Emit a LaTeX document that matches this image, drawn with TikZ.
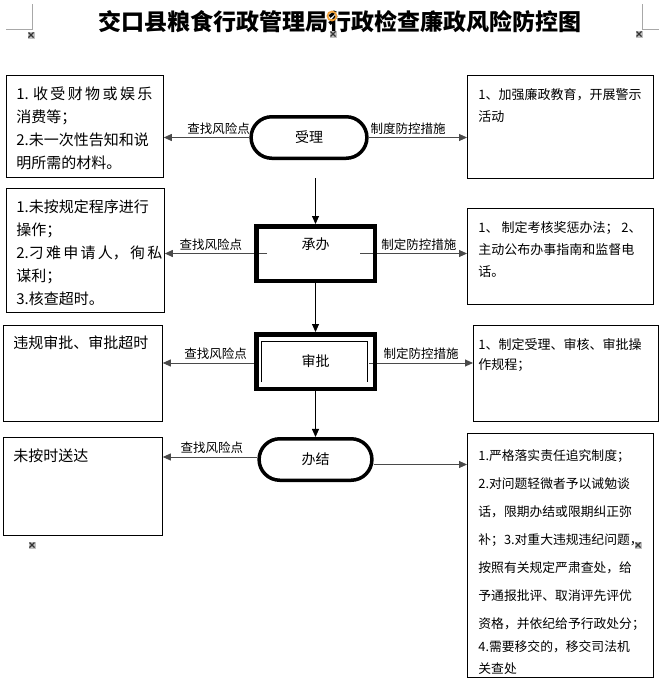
\documentclass[tikz,border=0pt]{standalone}
\usepackage{fontspec}
\setmainfont{Noto Sans CJK SC}
\usepackage{xcolor}
\usepackage{tikz}
\usetikzlibrary{positioning,arrows.meta,shapes.misc,backgrounds}
\definecolor{linegrey}{HTML}{4A4A4A}
\definecolor{markgrey}{HTML}{A8A8A8}
\definecolor{anchororg}{HTML}{F2A23A}
\newcommand{\sidetext}[3]{\parbox[t][#2pt][t]{#1pt}{\raggedright #3}}
\tikzset{
  side/.style  = {draw, anchor=north west, line width=0.8pt, inner xsep=10pt,
                  inner ysep=11pt, font=\fontsize{15}{23}\selectfont},
  ctrl/.style  = {side, inner xsep=11pt, inner ysep=13.5pt,
                  font=\fontsize{13}{22}\selectfont},
  stage/.style = {rounded rectangle, draw, line width=3.5pt, minimum width=119.5pt,
                  minimum height=41.5pt, font=\fontsize{14}{16}\selectfont},
  task/.style  = {rectangle, draw, line width=4.5pt, minimum width=118.5pt,
                  minimum height=54.5pt, font=\fontsize{14}{16}\selectfont},
  flow/.style  = {-{Triangle[length=8pt,width=7pt]}, line width=0.8pt},
  risk/.style  = {-{Triangle[length=8pt,width=7pt]}, line width=0.9pt, draw=linegrey},
  lab/.style   = {font=\fontsize{12.5}{14}\selectfont, inner sep=3pt, above},
  xmark/.style = {fill=markgrey!70, minimum size=7pt, inner sep=0pt,
                  path picture={\draw[black!80, line width=1.1pt]
                    ([shift={(1pt,1pt)}]path picture bounding box.south west) --
                    ([shift={(-1pt,-1pt)}]path picture bounding box.north east)
                    ([shift={(1pt,-1pt)}]path picture bounding box.north west) --
                    ([shift={(-1pt,1pt)}]path picture bounding box.south east);}},
}

\begin{document}
\begin{tikzpicture}[x=1pt, y=-1pt]
  \useasboundingbox (0,0) rectangle (659,696);

  % ---------------- Title ----------------
  \node[font=\bfseries\fontsize{23}{25}\selectfont] (title) at (340,22)
    {交口县粮食行政管理局行政检查廉政风险防控图};
  \draw[markgrey, line width=0.8pt] (6,29) -- (32,29) -- (32,4);
  \draw[markgrey, line width=0.8pt] (642,4) -- (642,29) -- (659,29);
  \node[circle, draw=anchororg, line width=1.8pt, minimum size=9pt, inner sep=0pt] (anc) at (332,16) {};
  \node[xmark] (xa) at (31,35) {};
  \node[xmark] (xb) at (333,34) {};
  \node[xmark] (xc) at (639,34) {};
  \node[xmark] (xd) at (32,545) {};
  \node[xmark] (xe) at (638,545) {};

  % ---------------- Main flow ----------------
  \node[stage, minimum width=122.5pt] (sl) at (309,137.5) {受理};
  \node[task, text height=11pt, text depth=19pt] (cb) at (315.5,253.5) {承办};
  \node[task, below=49pt of cb] (sp) {审批};
  \node[stage, below=46pt of sp] (bj) {办结};
  \draw[line width=0.7pt] ([shift={(7pt,9pt)}]sp.south west) |- ([shift={(-10pt,-9pt)}]sp.north east)
        -- ([shift={(-10pt,9pt)}]sp.south east);

  % ---------------- Risk points ----------------
  \node[side] (l1) at (6,75)
    {\sidetext{137}{80}{\makebox[136pt][s]{1. 收 受 财 物 或 娱 乐}\\消费等；\\2.未一次性告知和说\\明所需的材料。}};
  \node[side] (l2) at (6,188)
    {\sidetext{138}{102}{1.未按规定程序进行\\操作；\\\makebox[136pt][s]{2.刁 难 申 请 人， 徇 私}\\谋利；\\3.核查超时。}};
  \node[side, inner ysep=10pt] (l3) at (3,325) {\sidetext{139}{76}{违规审批、审批超时}};
  \node[side] (l4) at (3,437) {\sidetext{139}{76}{未按时送达}};

  % ---------------- Control measures ----------------
  \node[ctrl] (r1) at (467,75) {\sidetext{164}{76}{1、加强廉政教育，开展警示\\活动}};
  \node[ctrl] (r2) at (467,208)
    {\sidetext{164}{69}{1、 制定考核奖惩办法； 2、\\主动公布办事指南和监督电\\话。}};
  \node[ctrl, inner xsep=5pt, font=\fontsize{13}{20}\selectfont] (r3) at (473,325)
    {\sidetext{175}{69}{1、制定受理、审核、审批操\\作规程；}};
  \node[ctrl, inner ysep=16.5pt, font=\fontsize{12.8}{22}\selectfont] (r4) at (467,433)
    {\sidetext{164}{211}{1.严格落实责任追究制度；\\[6pt]2.对问题轻微者予以诫勉谈\\[6pt]话，限期办结或限期纠正弥\\[6pt]补；3.对重大违规违纪问题，\\[6pt]按照有关规定严肃查处，给\\[6pt]予通报批评、取消评先评优\\[6pt]资格，并依纪给予行政处分；\\[1pt]4.需要移交的，移交司法机\\关查处}};

  % ---------------- Connectors ----------------
  \begin{scope}[on background layer]
    \draw[flow] ([yshift=46pt]cb.north) -- (cb.north);
    \draw[flow] (cb) -- (sp);
    \draw[flow] (sp) -- (bj);
    \draw[risk] (sl.west) -- (sl.west -| l1.east) node[lab, pos=0.36] {查找风险点};
    \draw[risk] (sl.east) -- (sl.east -| r1.west) node[lab, pos=0.4] {制度防控措施};
    \draw[risk] ([xshift=13pt]cb.west) -- (cb.west -| l2.east) node[lab, pos=0.55] {查找风险点};
    \draw[risk] ([xshift=-17pt]cb.east) -- (cb.east -| r2.west) node[lab, pos=0.55] {制定防控措施};
    \draw[risk] ([yshift=-1.5pt]sp.west) -- ([yshift=-1.5pt]sp.west -| l3.east) node[lab, pos=0.42] {查找风险点};
    \draw[risk] ([xshift=-8pt,yshift=-1.5pt]sp.east) -- ([yshift=-1.5pt]sp.east -| r3.west) node[lab, pos=0.5] {制定防控措施};
    \draw[risk] ([yshift=2.5pt]bj.west) -- ([yshift=2.5pt]bj.west -| l4.east) node[lab, pos=0.48] {查找风险点};
    \draw[risk] ([yshift=-5pt]bj.east) -- ([yshift=-5pt]bj.east -| r4.west);
  \end{scope}
\end{tikzpicture}
\end{document}
